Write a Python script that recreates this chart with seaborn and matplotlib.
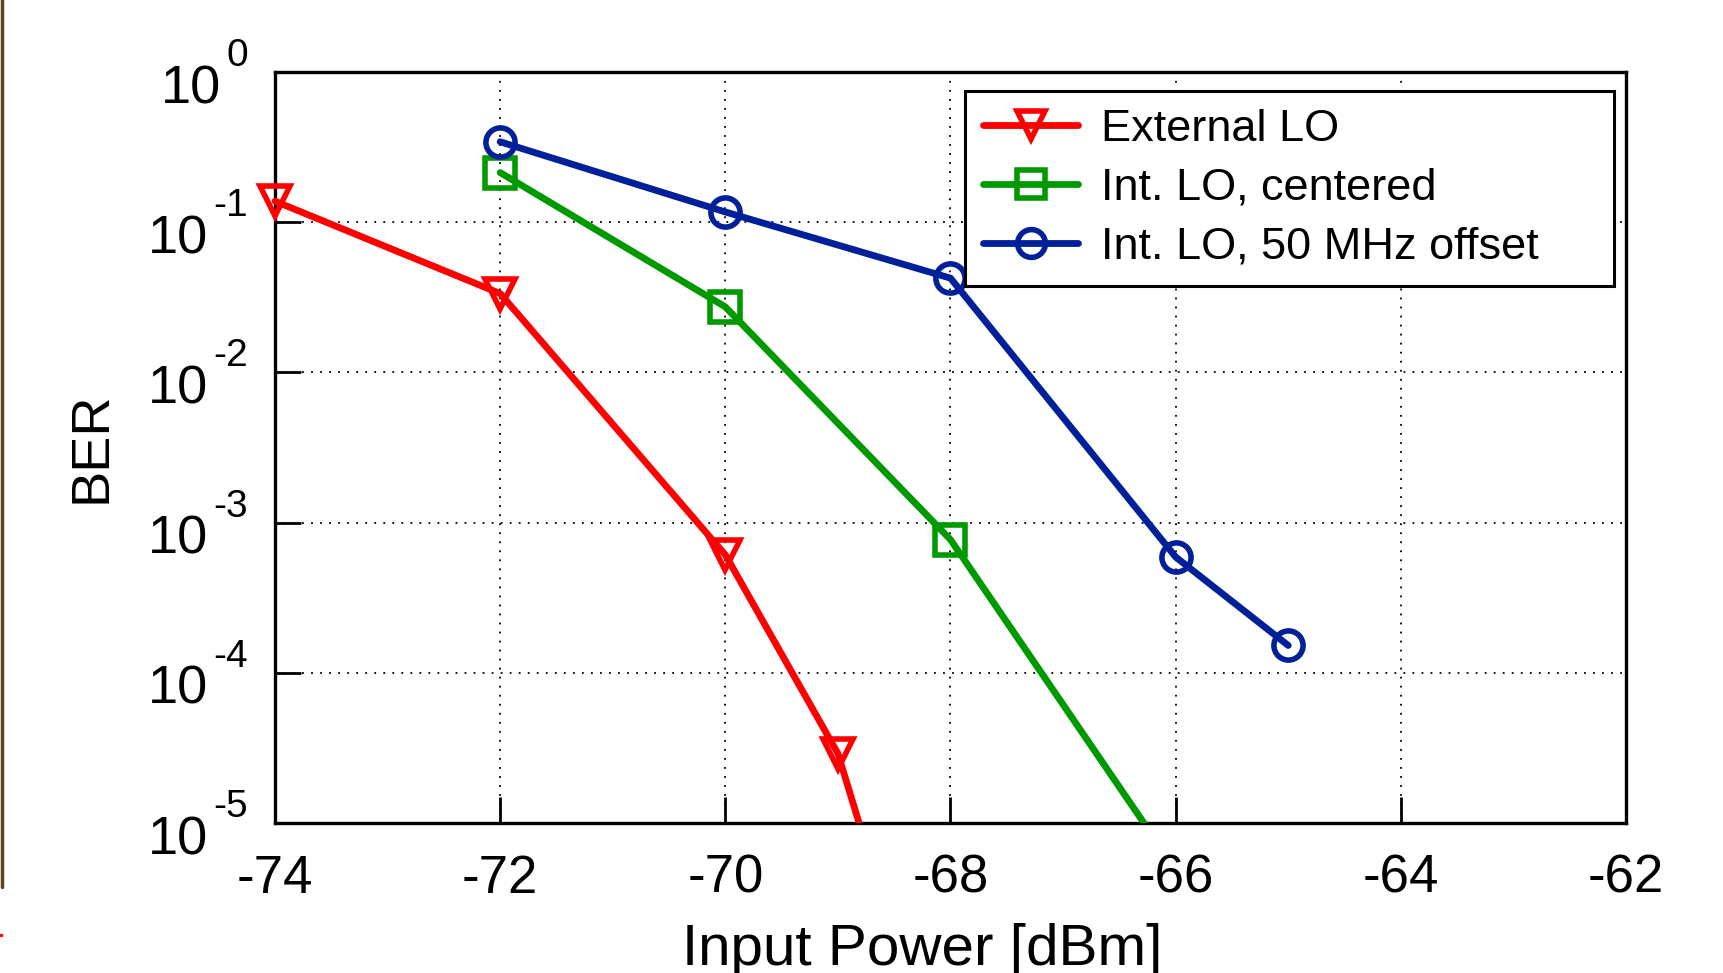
import numpy as np
import pandas as pd
import matplotlib
matplotlib.use("Agg")
import matplotlib.pyplot as plt
import seaborn as sns
from matplotlib.lines import Line2D
from matplotlib.patches import Rectangle
from matplotlib.ticker import FixedLocator, NullLocator, NullFormatter
import matplotlib.transforms as mtransforms

# ---- data ----
ext_x = [-74, -72, -70, -69, -68]
ext_ber = [0.138, 0.0335, 6.1e-4, 2.9e-5, 1.0e-7]
cen_x = [-72, -70, -68, -66]
cen_ber = [0.214, 0.0273, 7.7e-4, 4.9e-6]
off_x = [-72, -70, -68, -66, -65]
off_ber = [0.343, 0.117, 0.0424, 5.9e-4, 1.52e-4]
series_labels = ["External LO", "Int. LO, centered", "Int. LO, 50 MHz offset"]
x_ticks = [-74, -72, -70, -68, -66, -64, -62]
y_exponents = [0, -1, -2, -3, -4, -5]
x_label = "Input Power [dBm]"
y_label = "BER"

sns.set_theme(style="white")
plt.rcParams["font.family"] = ["Liberation Sans", "DejaVu Sans"]
plt.rcParams["axes.unicode_minus"] = False
for k in ["text.color", "axes.labelcolor", "xtick.color", "ytick.color"]:
    plt.rcParams[k] = "black"

fig = plt.figure(figsize=(17.24, 9.73), dpi=100)
ax = fig.add_axes([275 / 1724, 1 - 823 / 973, (1626 - 275) / 1724, (823 - 72) / 973])

styles = [
    dict(color="#ff0000", marker="v"),
    dict(color="#009a00", marker="s"),
    dict(color="#00209a", marker="o"),
]
for xs, ys, lab, st in zip([ext_x, cen_x, off_x], [ext_ber, cen_ber, off_ber], series_labels, styles):
    df = pd.DataFrame({"x": xs, "y": ys})
    sns.lineplot(data=df, x="x", y="y", ax=ax, label=lab, color=st["color"],
                 marker=st["marker"], markersize=21, markerfacecolor="none",
                 markeredgecolor=st["color"], markeredgewidth=4.0, linewidth=4.9,
                 zorder=3)

# clip region: allow markers to spill left/up beyond the frame, but not below it
clip_rect = Rectangle((-0.06, 0.0), 1.12, 1.1, transform=ax.transAxes, facecolor="none")
for ln in ax.lines:
    ln.set_clip_path(clip_rect)

ax.set_yscale("log")
ax.set_xlim(-74, -62)
ax.set_ylim(1e-5, 1)
ax.xaxis.set_major_locator(FixedLocator(x_ticks))
ax.set_xticklabels([str(v) for v in x_ticks])
ax.yaxis.set_major_locator(FixedLocator([10.0 ** e for e in y_exponents]))
ax.yaxis.set_minor_locator(NullLocator())
ax.yaxis.set_major_formatter(NullFormatter())

# MATLAB-style "10^e" tick labels placed at the tick positions
ytrans = mtransforms.blended_transform_factory(ax.transAxes, ax.transData)
for e in y_exponents:
    exp_txt = ax.annotate(str(e), xy=(0, 10.0 ** e), xycoords=ytrans,
                          xytext=(-27, 6), textcoords="offset pixels",
                          ha="right", va="baseline", fontsize=28, annotation_clip=False)
    ax.annotate("10", xy=(0, 0), xycoords=exp_txt, xytext=(-5, -29),
                textcoords="offset pixels", ha="right", va="baseline",
                fontsize=39, annotation_clip=False)

ax.grid(True, which="major", color="black", linestyle=(0, (1, 4)), linewidth=1.3)
for s in ax.spines.values():
    s.set_color("black")
    s.set_linewidth(2.4)
ax.tick_params(axis="both", which="major", direction="in", length=19, width=2,
               color="black", labelsize=38, top=False, right=False, left=True, bottom=True)
ax.tick_params(axis="x", pad=22)

ax.set_xlabel(x_label, fontsize=42)
ax.xaxis.label.set_va("baseline")
ax.xaxis.set_label_coords(0.479, (823 - 965) / 751)
ax.set_ylabel(y_label, fontsize=39)
ax.yaxis.set_label_coords((116 - 275) / 1351, 0.50)

leg = ax.legend(loc="upper left", bbox_to_anchor=(0.511, 0.0, 0.991 - 0.511, 0.975),
                mode="expand", borderaxespad=0,
                fontsize=32.5, frameon=True, fancybox=False, edgecolor="black",
                handlelength=2.1, labelspacing=0.4, borderpad=0.4, handletextpad=0.5)
leg.get_frame().set_linewidth(2.2)
leg.get_frame().set_alpha(1)
for h in leg.legend_handles:
    h.set_markersize(20)

# edge artefacts at the left of the picture
fig.add_artist(Line2D([0.001, 0.001], [1.0, 1 - 887 / 973], transform=fig.transFigure,
                      color="#5a4620", linewidth=2.5))
fig.add_artist(Line2D([0.0006], [1 - 935 / 973], transform=fig.transFigure,
                      marker="o", markersize=1.5, color="red", linestyle="none"))

fig.savefig("out.png", dpi=100)
